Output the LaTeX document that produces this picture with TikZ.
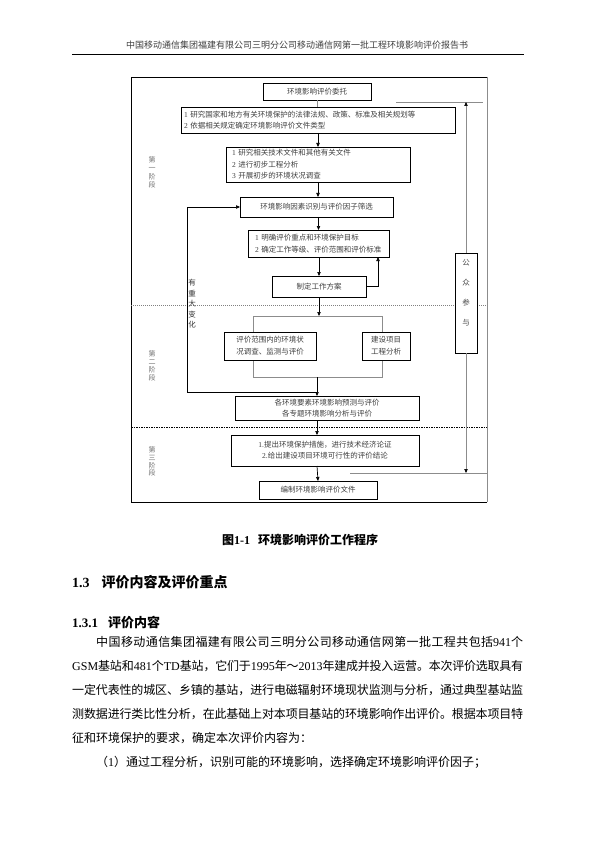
\documentclass[tikz,border=0pt]{standalone}
\usepackage{fontspec}
\setmainfont{Liberation Serif}
\newfontfamily\cjk{Noto Sans CJK SC}
\usetikzlibrary{arrows.meta}
\XeTeXlinebreaklocale "zh"
\XeTeXlinebreakskip=0pt plus 2pt minus 0.6pt
\newcommand\lat[1]{{\rmfamily #1}}
\newcommand\jline[2]{\parbox[b]{#1}{\parindent=0pt\parfillskip=0pt\tolerance=10000\relax #2}}
\tikzset{
  box/.style={draw=black, line width=0.8pt, fill=white, inner sep=2pt, outer sep=0pt,
    font=\cjk\fontsize{7.5}{11}\selectfont, text=black!75, align=center},
  brk/.style={draw=black!45, line width=0.7pt, fill=white, inner sep=0pt, outer sep=0pt},
  ln/.style={draw=black, line width=0.7pt},
  gln/.style={draw=black!45, line width=0.7pt},
  arr/.style={ln, -{Triangle[length=4pt,width=3.4pt]}},
  garr/.style={gln, -{Triangle[length=4pt,width=3.4pt,color=black]}},
  stage/.style={font=\cjk\fontsize{7}{8.5}\selectfont, text=black!55, align=center, inner sep=0pt},
  vtxt/.style={font=\cjk\fontsize{7.5}{10.5}\selectfont, text=black!80, align=center, inner sep=0pt},
  body/.style={font=\fontsize{12}{24}\selectfont, anchor=base west, inner sep=0pt, text=black},
}
\begin{document}
\begin{tikzpicture}[x=1pt,y=-1pt]
\useasboundingbox (0,0) rectangle (595,842);
\fill[white] (0,0) rectangle (595,842);

% header
\node[font=\cjk\fontsize{9}{10}\selectfont, text=black!75, inner sep=0pt] (hdr) at (297,45)
  {中国移动通信集团福建有限公司三明分公司移动通信网第一批工程环境影响评价报告书};
\coordinate (hl) at (72,54);
\coordinate (hr) at (524,54);
\draw[line width=0.8pt] (hl) -- (hr);

% frame
\coordinate (ftl) at (131,77);
\coordinate (ftr) at (487,77);
\coordinate (fbl) at (131,502);
\coordinate (fbr) at (487,502);
\draw[ln, line width=0.9pt] (ftr) -- (ftl) -- (fbl) -- (fbr);
\draw[gln] (ftr) -- (fbr);

% stage separators
\coordinate (d1l) at (131,305);
\coordinate (d1r) at (487,305);
\draw[draw=black!50, line width=0.5pt, dash pattern=on 1pt off 1pt] (d1l) -- (d1r);
\coordinate (d2l) at (131,427);
\coordinate (d2r) at (487,427);
\draw[draw=black, line width=0.8pt, dash pattern=on 1.5pt off 1pt] (d2l) -- (d2r);

% boxes
\node[box, minimum width=108, minimum height=17] (b1) at (317,91.5) {环境影响评价委托};
\node[box, text width=268, inner xsep=3, minimum height=26, align=left] (b2) at (318,120)
  {\lat{1} 研究国家和地方有关环境保护的法律法规、政策、标准及相关规划等\\\lat{2} 依据相关规定确定环境影响评价文件类型};
\node[box, text width=172, inner xsep=6, minimum height=35, align=left, font=\cjk\fontsize{7.5}{11.5}\selectfont] (b3) at (318,164.5)
  {\lat{1} 研究相关技术文件和其他有关文件\\\lat{2} 进行初步工程分析\\\lat{3} 开展初步的环境状况调查};
\node[box, minimum width=153, minimum height=20] (b4) at (316.5,207) {环境影响因素识别与评价因子筛选};
\node[box, text width=127, inner xsep=7, minimum height=27, align=left, font=\cjk\fontsize{7.5}{12.5}\selectfont] (b5) at (318.5,243.5)
  {\lat{1} 明确评价重点和环境保护目标\\\lat{2} 确定工作等级、评价范围和评价标准};
\node[box, minimum width=94, minimum height=21] (b6) at (319,286.5) {制定工作方案};
\node[brk, minimum width=129, minimum height=61] (brk) at (317.5,346.5) {};
\node[box, minimum width=92, minimum height=28, font=\cjk\fontsize{7.5}{12}\selectfont] (b7) at (270,346) {评价范围内的环境状\\况调查、监测与评价};
\node[box, minimum width=48, minimum height=28, font=\cjk\fontsize{7.5}{12}\selectfont] (b8) at (386,346) {建设项目\\工程分析};
\node[box, minimum width=184, minimum height=24, font=\cjk\fontsize{7.5}{10.5}\selectfont] (b9) at (327,408) {各环境要素环境影响预测与评价\\各专题环境影响分析与评价};
\node[box, minimum width=188, minimum height=31, font=\cjk\fontsize{7.5}{11}\selectfont] (b10) at (325,450.5)
  {\lat{1.}提出环境保护措施，进行技术经济论证\\\lat{2.}给出建设项目环境可行性的评价结论};
\node[box, minimum width=118, minimum height=18] (b11) at (318,490) {编制环境影响评价文件};
\node[box, minimum width=22, minimum height=100] (pp) at (466,303) {};
\node[vtxt, font=\cjk\fontsize{7.5}{20}\selectfont, text=black!70] (pt) at (466,293) {公\\众\\参\\与};

% connectors
\draw[gln] (b1.south) -- (b1.south |- b2.north);
\draw[arr] (b3.north |- b2.south) -- (b3.north);
\draw[arr] (b3.south) -- (b3.south |- b4.north);
\draw[arr] (b5.north |- b4.south) -- (b5.north);
\coordinate (fb) at (378,286.5);
\draw[ln] (b6.east) -- (fb);
\draw[arr] (fb) -- (fb |- b5.south);
\draw[arr] (b6.south |- b5.south) -- (b6.north);
\draw[arr] (b6.south) -- (b6.south |- brk.north);
\coordinate (m) at (317,392);
\coordinate (lp1) at (187,392);
\coordinate (lp2) at (187,207);
\draw[ln] (m) -- (lp1) -- (lp2);
\draw[arr] (lp2) -- (b4.west);
\draw[arr] (brk.south -| m) -- (m |- b9.north);
\draw[arr] (b9.south -| m) -- (m |- b10.north);
\draw[arr] (b10.south -| m) -- (b11.north);

% public participation
\coordinate (ptop) at (466,102);
\coordinate (h1l) at (396,102);
\coordinate (h1r) at (483,102);
\draw[gln] (h1l) -- (h1r);
\draw[garr] (pp.north) -- (ptop);
\coordinate (pbot) at (466,473);
\coordinate (h2l) at (350,473);
\coordinate (h2r) at (487,473);
\draw[gln] (h2l) -- (h2r);
\draw[garr] (pp.south) -- (pbot);

% labels
\node[stage] (s1) at (152,172.5) {第\\一\\阶\\段};
\node[stage, font=\cjk\fontsize{7}{8}\selectfont] (s2) at (152,365.5) {第\\二\\阶\\段};
\node[stage, font=\cjk\fontsize{7}{7.8}\selectfont] (s3) at (152,461.5) {第\\三\\阶\\段};
\node[vtxt] (chg) at (192,304) {有\\重\\大\\变\\化};

% caption and text
\node[anchor=west, inner sep=0pt, font=\fontsize{12}{14}\selectfont] (cap) at (222,540)
  {{\cjk\bfseries 图}\textbf{1-1}\hspace{8pt}{\cjk\bfseries 环境影响评价工作程序}};
\node[anchor=base west, inner sep=0pt, font=\fontsize{14}{16}\selectfont] (sec) at (72,587)
  {\textbf{1.3}\hspace{12pt}{\cjk\bfseries 评价内容及评价重点}};
\node[anchor=base west, inner sep=0pt, font=\fontsize{13}{16}\selectfont] (sub) at (72,627)
  {\textbf{1.3.1}\hspace{10pt}{\cjk\bfseries 评价内容}};

\node[body] (l1) at (96,646) {\jline{427pt}{{\cjk 中国移动通信集团福建有限公司三明分公司移动通信网第一批工程共包括}941{\cjk 个}}};
\node[body] (l2) at (72,670) {\jline{451pt}{GSM{\cjk 基站和}481{\cjk 个}TD{\cjk 基站，它们于}1995{\cjk 年～}2013{\cjk 年建成并投入运营。本次评价选取具有}}};
\node[body] (l3) at (72,694) {\jline{451pt}{{\cjk 一定代表性的城区、乡镇的基站，进行电磁辐射环境现状监测与分析，通过典型基站监}}};
\node[body] (l4) at (72,718) {\jline{451pt}{{\cjk 测数据进行类比性分析，在此基础上对本项目基站的环境影响作出评价。根据本项目特}}};
\node[body] (l5) at (72,742) {{\cjk 征和环境保护的要求，确定本次评价内容为：}};
\node[body] (l6) at (96,766) {{\cjk （}1{\cjk ）通过工程分析，识别可能的环境影响，选择确定环境影响评价因子；}};
\end{tikzpicture}
\end{document}
